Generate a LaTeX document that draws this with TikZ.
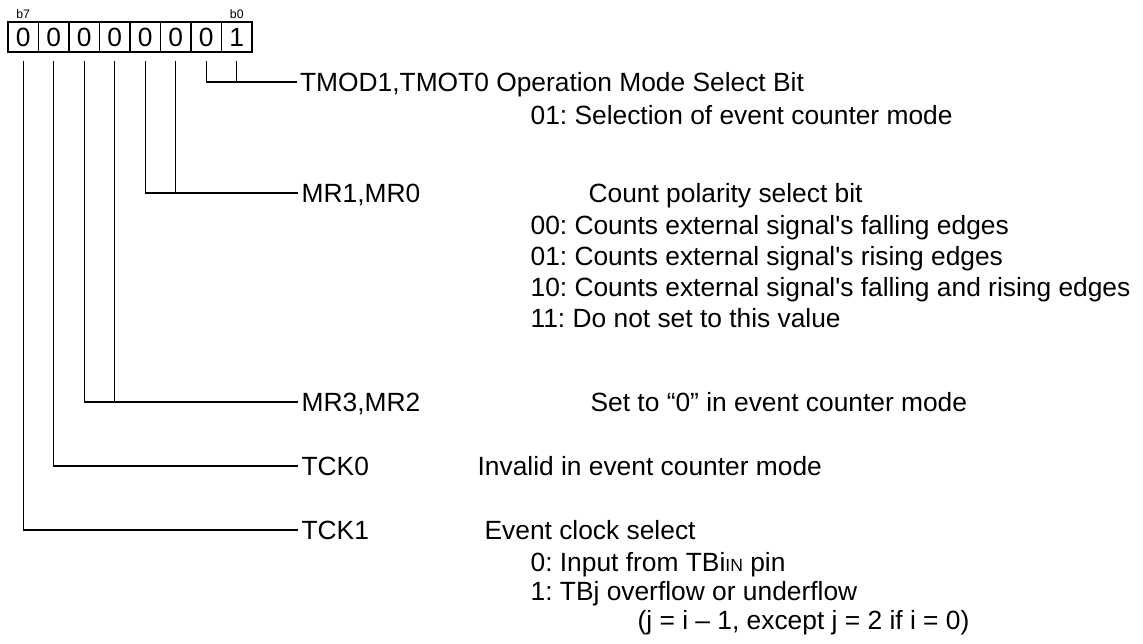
\documentclass[tikz,border=0pt]{standalone}
\usepackage{fontspec}
\setmainfont{Liberation Sans}
\frenchspacing
\begin{document}
\begin{tikzpicture}[x=0.02cm, y=-0.02cm, line width=0.7pt,
  cell/.style={draw, minimum width=0.61cm, minimum height=0.6cm, inner sep=0pt, font=\fontsize{15}{18}\selectfont},
  bitno/.style={inner sep=0pt, font=\fontsize{7}{8}\selectfont},
  lbl/.style={anchor=west, inner sep=0pt, text height=10.7pt, text depth=0pt, font=\fontsize{15}{18}\selectfont},
  link/.style={shorten <=0.16cm, shorten >=0.06cm}]
\useasboundingbox (0,0) rectangle (1143,644);

% Register bits
\foreach \b/\v [count=\i from 0] in {7/0,6/0,5/0,4/0,3/0,2/0,1/0,0/1}
  \node[cell] (c\b) at (23.25+30.5*\i, 37) {\v};
\node[bitno] (b7) at (23.25, 14) {b7};
\node[bitno] (b0) at (236.75, 14) {b0};

% Bit field names
\node[lbl] (tmod) at (299.5, 82) {TMOD1,TMOT0 Operation Mode Select Bit};
\node[lbl] (mr10) at (301, 193) {MR1,MR0};
\node[lbl] (mr32) at (301, 402) {MR3,MR2};
\node[lbl] (tck0) at (301, 466) {TCK0};
\node[lbl] (tck1) at (301, 530) {TCK1};

% Descriptions
\node[lbl] (tmodv) at (530, 115) {01: Selection of event counter mode};
\node[lbl] (polhead) at (588, 193) {Count polarity select bit};
\node[lbl] (pol00) at (530, 225) {00: Counts external signal\textquotesingle s falling edges};
\node[lbl] (pol01) at (530, 256) {01: Counts external signal\textquotesingle s rising edges};
\node[lbl] (pol10) at (530, 287) {10: Counts external signal\textquotesingle s falling and rising edges};
\node[lbl] (pol11) at (530, 318) {11: Do not set to this value};
\node[lbl] (mr32v) at (590, 402) {Set to “0” in event counter mode};
\node[lbl] (tck0v) at (477, 466) {Invalid in event counter mode};
\node[lbl] (tck1v) at (484, 530) {Event clock select};
\node[lbl] (clk0) at (530, 562) {0: Input from TBi{\fontsize{10}{12}\selectfont IN} pin};
\node[lbl] (clk1) at (530, 591) {1: TBj overflow or underflow};
\node[lbl] (clkj) at (637, 620) {(j = i – 1, except j = 2 if i = 0)};

% Leaders
\draw[link] (c1.south) |- (tmod.west);
\draw[link, shorten >=0pt] (c0.south) -- (c0.south |- tmod.west);
\draw[link] (c3.south) |- (mr10.west);
\draw[link, shorten >=0pt] (c2.south) -- (c2.south |- mr10.west);
\draw[link] (c5.south) |- (mr32.west);
\draw[link, shorten >=0pt] (c4.south) -- (c4.south |- mr32.west);
\draw[link] (c6.south) |- (tck0.west);
\draw[link] (c7.south) |- (tck1.west);
\end{tikzpicture}
\end{document}
